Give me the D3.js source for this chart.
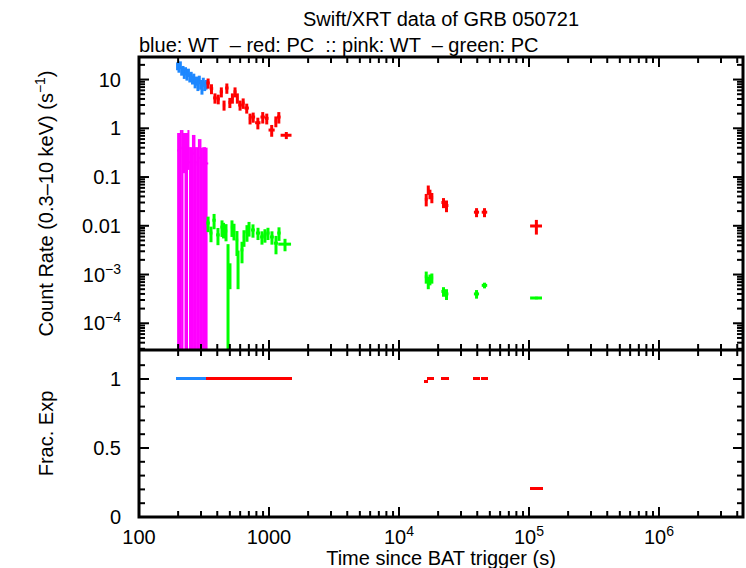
<!DOCTYPE html>
<html>
<head>
<meta charset="utf-8">
<script src="https://cdn.jsdelivr.net/npm/d3@7"></script>
<style>
  body { margin: 0; background: #fff; }
  svg { font-family: "Liberation Sans", Arial, sans-serif; }
</style>
</head>
<body>
<div id="chart"></div>
<script>
// WT mode (blue) count rates
const wtTime = [198, 203, 208, 213, 218, 223, 228, 233.75, 240, 246, 252, 258, 264, 270.25, 277, 284, 291, 298, 305, 312.25, 320, 328];
const wtHalf = [2.5, 2.5, 2.5, 2.5, 2.5, 2.5, 2.5, 3.25, 3, 3, 3, 3, 3, 3.25, 3.5, 3.5, 3.5, 3.5, 3.5, 3.75, 4, 4];
const wtRate = [19, 17, 20, 15, 16, 13, 15, 12, 14, 11, 12, 10, 11, 8.5, 9.5, 7.5, 10, 8, 6.5, 9, 7.5, 8];
const wtErr  = [3.5, 3.2, 3.6, 3, 3, 2.7, 2.9, 2.5, 2.7, 2.3, 2.4, 2.1, 2.2, 1.9, 2, 1.7, 2, 1.8, 1.6, 1.9, 1.7, 1.8];
const wtFrac = [1, 1, 1, 1, 1, 1, 1, 1, 1, 1, 1, 1, 1, 1, 1, 1, 1, 1, 1, 1, 1, 1];

// PC mode (red) count rates
const pcTime = [340, 361, 384, 407, 430, 451, 474, 500, 523, 548, 571, 599, 633, 674, 715, 756, 821, 895, 961, 1049, 1129, 1190, 1359,
                16200, 16800, 17300, 17900, 22000, 23200, 39500, 45500, 114000];
const pcHalf = [10, 11, 12, 11, 12, 9, 14, 12, 11, 14, 9, 19, 15, 26, 15, 26, 39, 35, 31, 57, 23, 38, 131,
                400, 300, 300, 400, 800, 800, 1800, 2200, 12000];
const pcRate = [8.5, 6.5, 4.2, 4.0, 5.6, 3.0, 6.7, 3.4, 4.2, 5.6, 4.2, 3.0, 3.3, 2.6, 1.6, 1.7, 1.3, 1.7, 1.6, 0.92, 1.4, 1.7, 0.72,
                0.035, 0.055, 0.045, 0.038, 0.030, 0.026, 0.019, 0.019, 0.0099];
const pcErr  = [2.0, 1.5, 1.0, 0.9, 1.3, 0.7, 1.6, 0.8, 1.0, 1.3, 1.0, 0.7, 0.8, 0.6, 0.4, 0.4, 0.35, 0.45, 0.4, 0.25, 0.35, 0.45, 0.12,
                0.01, 0.012, 0.01, 0.009, 0.007, 0.007, 0.004, 0.004, 0.0033];
const pcFrac = [1, 1, 1, 1, 1, 1, 1, 1, 1, 1, 1, 1, 1, 1, 1, 1, 1, 1, 1, 1, 1, 1, 1,
                0.98, 1, 1, 1, 1, 1, 1, 1, 0.21];

// pink: WT (upper ends given, lower ends fall below the axis where 0)
const pkTime = [200, 205, 210, 216, 222, 228, 234, 240, 247, 253, 260, 267, 274, 282, 289, 297, 305, 313, 322, 331];
const pkHalf = [2.5, 2.5, 2.5, 3, 3, 3, 3, 3, 3.5, 3, 3.5, 3.5, 3.5, 4, 3.5, 4, 4, 4, 4.5, 10];
const pkRate = [0.35, 0.3, 0.4, 0.38, 0.32, 0.3, 0.33, 0.4, 0.2, 0.18, 0.3, 0.32, 0.2, 0.18, 0.25, 0.24, 0.18, 0.2, 0.19, 0.19];
const pkUp   = [0.8, 0.8, 0.92, 0.92, 0.8, 0.8, 0.8, 0.92, 0.41, 0.41, 0.73, 0.73, 0.41, 0.41, 0.6, 0.6, 0.4, 0.41, 0.41, 0.4];
const pkDown = [0, 0, 0, 0, 0.12, 0, 0, 0.14, 0, 0, 0, 0, 0, 0, 0, 0, 0, 0, 0, 0];

// green: PC
const gnTime = [340, 358, 378, 405, 435, 447, 467, 484, 501, 519, 538, 567, 578, 620, 642, 677, 702, 753, 823, 883, 931, 982, 1054, 1132, 1194, 1328,
                16200, 16800, 17300, 17900, 22000, 23200, 39500, 45500, 114000];
const gnHalf = [10, 9, 11, 13, 12, 8, 10, 8, 9, 10, 10, 12, 10, 15, 12, 18, 15, 25, 30, 28, 25, 28, 35, 40, 35, 150,
                400, 300, 300, 400, 800, 800, 1800, 2200, 12000];
const gnRate = [0.0114, 0.0071, 0.013, 0.0065, 0.0094, 0.0085, 0.0078, 0.002, 0.0011, 0.0094, 0.008, 0.0051, 0.0018, 0.0032, 0.0059, 0.0075,
                0.009, 0.0082, 0.0071, 0.0059, 0.0065, 0.0071, 0.0059, 0.0044, 0.0071, 0.0042,
                9e-4, 7e-4, 8e-4, 8.5e-4, 4.5e-4, 4e-4, 4e-4, 6e-4, 3.3e-4];
const gnErr  = [0.004, 0.0025, 0.0045, 0.0025, 0.0035, 0.003, 0.003, 0.0022, 0.0006, 0.0035, 0.003, 0.0027, 0.0013, 0.0015, 0.0022, 0.0028,
                0.003, 0.0025, 0.002, 0.0018, 0.002, 0.002, 0.0018, 0.0018, 0.0022, 0.0012,
                2.5e-4, 2e-4, 2e-4, 2e-4, 1e-4, 1e-4, 0.8e-4, 0.8e-4, 0.2e-4];

const xTickLabels = ['100', '1000', '10^4', '10^5', '10^6'];
const yTickLabels = ['10', '1', '0.1', '0.01', '10^−3', '10^−4'];
const fTickLabels = ['0', '0.5', '1'];

const WIDTH = 746, HEIGHT = 568;
const LEFT = 139, RIGHT = 743, TOP = 57, MID = 350, BOTTOM = 517;

const svg = d3.select('#chart')
    .append('svg')
    .attr('width', WIDTH)
    .attr('height', HEIGHT);

// Scales
const x = d3.scaleLog().domain([100, 4.43e6]).range([LEFT, RIGHT]);
const yRate = d3.scaleLog().domain([2.83e-5, 29]).range([MID, TOP]).clamp(true);
const yFrac = d3.scaleLinear().domain([0, 1.21]).range([BOTTOM, MID]);

function logTicks(lo, hi) {
    const out = [];
    for (let e = Math.floor(Math.log10(lo)); e <= Math.ceil(Math.log10(hi)); e++) {
        for (let m = 1; m < 10; m++) {
            const v = +(m * Math.pow(10, e)).toPrecision(3);
            if (v >= lo && v <= hi) out.push({ v, major: m === 1 });
        }
    }
    return out;
}

const xTicks = logTicks(100, 4.43e6);
const yTicks = logTicks(2.83e-5, 29);
const fTicks = d3.range(0, 12).map(i => ({ v: i / 10, major: i % 5 === 0 }));

// Clip paths
const defs = svg.append('defs');
defs.append('clipPath').attr('id', 'clipTop')
    .append('rect').attr('x', LEFT).attr('y', TOP).attr('width', RIGHT - LEFT).attr('height', MID - TOP);
defs.append('clipPath').attr('id', 'clipBot')
    .append('rect').attr('x', LEFT).attr('y', MID).attr('width', RIGHT - LEFT).attr('height', BOTTOM - MID);

function rows(t, half, v, lo, hi, frac) {
    return t.map((d, i) => ({ t: d, dt: half[i], v: v[i], lo: lo[i], hi: hi[i], f: frac ? frac[i] : null }));
}

const wtRows = rows(wtTime, wtHalf, wtRate, wtRate.map((d, i) => d - wtErr[i]), wtRate.map((d, i) => d + wtErr[i]), wtFrac);
const pcRows = rows(pcTime, pcHalf, pcRate, pcRate.map((d, i) => d - pcErr[i]), pcRate.map((d, i) => d + pcErr[i]), pcFrac);
const pkRows = rows(pkTime, pkHalf, pkRate, pkDown, pkUp);
const gnRows = rows(gnTime, gnHalf, gnRate, gnRate.map((d, i) => d - gnErr[i]), gnRate.map((d, i) => d + gnErr[i]));

// Error-bar crosses
function drawRate(data, color, width) {
    const g = svg.append('g')
        .attr('clip-path', 'url(#clipTop)')
        .attr('stroke', color)
        .attr('stroke-width', width);
    g.selectAll('line.v')
        .data(data)
        .enter()
        .append('line')
        .attr('class', 'v')
        .attr('x1', d => x(d.t))
        .attr('x2', d => x(d.t))
        .attr('y1', d => yRate(Math.max(d.lo, 1e-9)))
        .attr('y2', d => yRate(d.hi));
    g.selectAll('line.h')
        .data(data)
        .enter()
        .append('line')
        .attr('class', 'h')
        .attr('x1', d => x(d.t - d.dt))
        .attr('x2', d => x(d.t + d.dt))
        .attr('y1', d => yRate(d.v))
        .attr('y2', d => yRate(d.v));
}

function drawFrac(data, color) {
    svg.append('g')
        .attr('clip-path', 'url(#clipBot)')
        .attr('stroke', color)
        .attr('stroke-width', 3)
        .attr('shape-rendering', 'crispEdges')
        .selectAll('line')
        .data(data)
        .enter()
        .append('line')
        .attr('x1', d => x(d.t - d.dt) - 0.5)
        .attr('x2', d => x(d.t + d.dt) + 0.5)
        .attr('y1', d => yFrac(d.f))
        .attr('y2', d => yFrac(d.f));
}

drawRate(wtRows, '#1e88ff', 3);
drawRate(pcRows, '#ff0000', 3);
drawRate(pkRows, '#ff00ff', 2);
drawRate(gnRows, '#00ff00', 3);

drawFrac(wtRows, '#1e88ff');
drawFrac(pcRows, '#ff0000');

// Ticks (inward, both sides)
function tickLen(d) { return d.major ? 10 : 6; }

const tickG = svg.append('g').attr('stroke', '#000').attr('stroke-width', 2);
[TOP, MID, BOTTOM].forEach(yy => {
    tickG.append('g').selectAll('line')
        .data(xTicks)
        .enter()
        .append('line')
        .attr('x1', d => x(d.v)).attr('x2', d => x(d.v))
        .attr('y1', yy)
        .attr('y2', d => yy === TOP ? yy + tickLen(d) : yy - tickLen(d));
});
tickG.append('g').selectAll('line')
    .data(xTicks)
    .enter()
    .append('line')
    .attr('x1', d => x(d.v)).attr('x2', d => x(d.v))
    .attr('y1', MID)
    .attr('y2', d => MID + tickLen(d));

[LEFT, RIGHT].forEach(xx => {
    const dir = xx === LEFT ? 1 : -1;
    tickG.append('g').selectAll('line')
        .data(yTicks)
        .enter()
        .append('line')
        .attr('x1', xx).attr('x2', d => xx + dir * tickLen(d))
        .attr('y1', d => yRate(d.v)).attr('y2', d => yRate(d.v));
    tickG.append('g').selectAll('line')
        .data(fTicks)
        .enter()
        .append('line')
        .attr('x1', xx).attr('x2', d => xx + dir * tickLen(d))
        .attr('y1', d => yFrac(d.v)).attr('y2', d => yFrac(d.v));
});

// Frame
svg.append('rect')
    .attr('x', LEFT).attr('y', TOP)
    .attr('width', RIGHT - LEFT).attr('height', BOTTOM - TOP)
    .attr('fill', 'none').attr('stroke', '#000').attr('stroke-width', 3);
svg.append('line')
    .attr('x1', LEFT).attr('x2', RIGHT)
    .attr('y1', MID).attr('y2', MID)
    .attr('stroke', '#000').attr('stroke-width', 3);

// Labels with optional superscripts ("10^4")
function label(sel, txt, supSize) {
    const parts = txt.split('^');
    sel.append('tspan').text(parts[0]);
    if (parts[1]) {
        sel.append('tspan').attr('dy', -8).attr('font-size', supSize).text(parts[1]);
    }
}

const FONT = 20;
const xMajors = xTicks.filter(d => d.major);
xMajors.forEach((d, i) => {
    const t = svg.append('text')
        .attr('x', x(d.v)).attr('y', 544)
        .attr('font-size', FONT)
        .attr('text-anchor', 'middle');
    label(t, xTickLabels[i], 14);
});

const yMajors = yTicks.filter(d => d.major).reverse();
yMajors.forEach((d, i) => {
    const t = svg.append('text')
        .attr('x', 121).attr('y', yRate(d.v) + 7)
        .attr('font-size', FONT)
        .attr('text-anchor', 'end');
    label(t, yTickLabels[i], 14);
});

[0, 0.5, 1].forEach((v, i) => {
    svg.append('text')
        .attr('x', 121).attr('y', yFrac(v) + 7)
        .attr('font-size', FONT)
        .attr('text-anchor', 'end')
        .text(fTickLabels[i]);
});

// Titles
svg.append('text')
    .attr('x', (LEFT + RIGHT) / 2).attr('y', 26)
    .attr('font-size', FONT).attr('text-anchor', 'middle')
    .text('Swift/XRT data of GRB 050721');
svg.append('text')
    .attr('x', LEFT).attr('y', 52)
    .attr('font-size', FONT)
    .text('blue: WT  \u2013 red: PC  :: pink: WT  \u2013 green: PC')
    .attr('xml:space', 'preserve')
    .style('white-space', 'pre');

svg.append('text')
    .attr('x', (LEFT + RIGHT) / 2).attr('y', 565)
    .attr('font-size', FONT).attr('text-anchor', 'middle')
    .text('Time since BAT trigger (s)');

const yl = svg.append('text')
    .attr('transform', `translate(53, ${(TOP + MID) / 2}) rotate(-90)`)
    .attr('font-size', FONT).attr('text-anchor', 'middle');
yl.append('tspan').text('Count Rate (0.3\u201310 keV) (s');
yl.append('tspan').attr('dy', -8).attr('font-size', 14).text('\u22121');
yl.append('tspan').attr('dy', 8).text(')');

svg.append('text')
    .attr('transform', `translate(53, ${(MID + BOTTOM) / 2}) rotate(-90)`)
    .attr('font-size', FONT).attr('text-anchor', 'middle')
    .text('Frac. Exp');
</script>
</body>
</html>
